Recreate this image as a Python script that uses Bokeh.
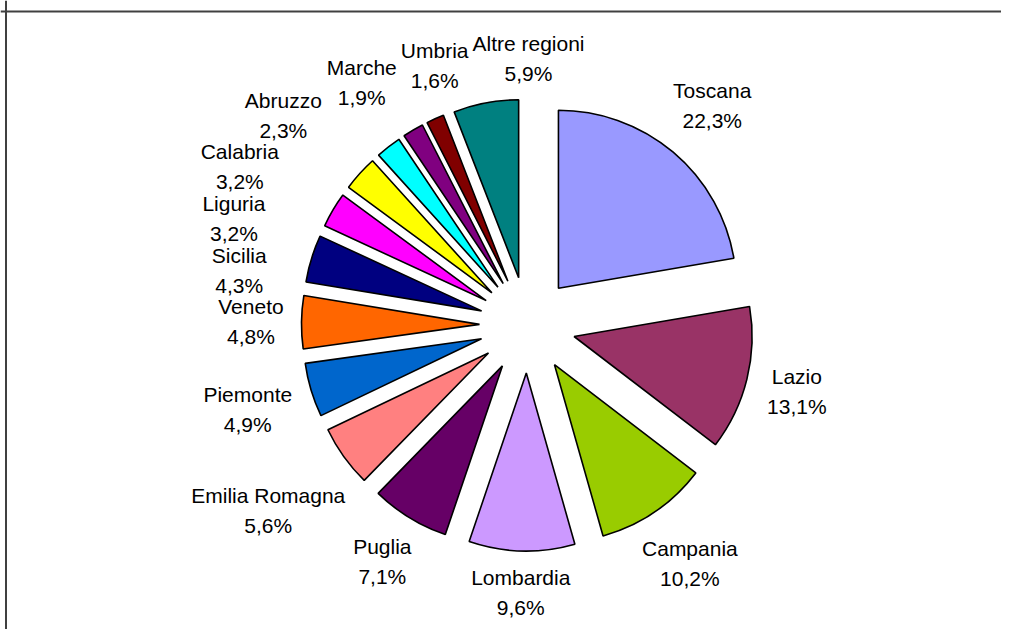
import math
from bokeh.plotting import figure
from bokeh.models import Range1d, ColumnDataSource, Span
from bokeh.embed import file_html
from bokeh.resources import INLINE
from bokeh.core.properties import value

# ---- data ----
regions = ["Toscana", "Lazio", "Campania", "Lombardia", "Puglia", "Emilia Romagna",
           "Piemonte", "Veneto", "Sicilia", "Liguria", "Calabria", "Abruzzo",
           "Marche", "Umbria", "Altre regioni"]
shares = [22.3, 13.1, 10.2, 9.6, 7.1, 5.6, 4.9, 4.8, 4.3, 3.2, 3.2, 2.3, 1.9, 1.6, 5.9]
colors = ["#9999FF", "#993366", "#99CC00", "#CC99FF", "#660066", "#FF8080",
          "#0066CC", "#FF6600", "#000080", "#FF00FF", "#FFFF00", "#00FFFF",
          "#800080", "#800000", "#008080"]

# ---- layout (screen pixels; y measured upward as negative screen y) ----
W, H = 1001, 629
CX, CY = 527.0, -324.5
R = 178.0
EXPLODE = 48.0
GAP = 17.0
PUSH_OUT = 3.0   # extra px of distance per degree a label was pushed back
FONT_PX = 21
LINE_STEP = 30
BOX_H = 46.0

AW = {' ': 278, '%': 889, ',': 278, 'A': 667, 'C': 722, 'E': 667, 'L': 556, 'M': 833,
      'P': 667, 'R': 722, 'S': 667, 'T': 611, 'U': 722, 'V': 667, 'a': 556, 'b': 556,
      'c': 500, 'd': 556, 'e': 556, 'g': 556, 'h': 556, 'i': 222, 'l': 222, 'm': 833,
      'n': 556, 'o': 556, 'p': 556, 'r': 333, 's': 500, 't': 278, 'u': 556, 'z': 500}


def text_w(s):
    return sum(AW.get(ch, 556) for ch in s) / 1000.0 * FONT_PX


total = sum(shares)
pcts = [("%.1f" % v).replace(".", ",") + "%" for v in shares]

xs, ys, starts, ends, mids = [], [], [], [], []
cum = 0.0
for v in shares:
    t0 = cum / total * 2 * math.pi
    cum += v
    t1 = cum / total * 2 * math.pi
    tm = (t0 + t1) / 2
    mids.append(tm)
    xs.append(CX + EXPLODE * math.sin(tm))
    ys.append(CY + EXPLODE * math.cos(tm))
    starts.append(math.pi / 2 - t0)
    ends.append(math.pi / 2 - t1)

widths = [max(text_w(a), text_w(b)) for a, b in zip(regions, pcts)]


def label_center(phi, w, mid):
    s, c = math.sin(phi), math.cos(phi)
    back = max(0.0, math.degrees(mid - phi))
    dist = R + EXPLODE + GAP + PUSH_OUT * back + (w / 2) * abs(s) + (BOX_H / 2) * abs(c)
    return CX + dist * s, CY + dist * c


# spread crowded labels apart along the circle
phis = list(mids)
n = len(phis)
step = math.radians(0.15)
for _ in range(5000):
    moved = False
    cents = [label_center(phis[i], widths[i], mids[i]) for i in range(n)]
    for i in range(n):
        j = (i + 1) % n
        (x1, y1), (x2, y2) = cents[i], cents[j]
        if abs(x1 - x2) < (widths[i] + widths[j]) / 2 + 4 and abs(y1 - y2) < BOX_H + 5:
            phis[i] -= 1.15 * step
            phis[j] += 0.85 * step
            moved = True
    if not moved:
        break

lx, ly = [], []
for i in range(n):
    x, y = label_center(phis[i], widths[i], mids[i])
    lx.append(x)
    ly.append(y)

src = ColumnDataSource(dict(x=xs, y=ys, start=starts, end=ends, color=colors,
                            lx=lx, ly=ly, name=regions, pct=pcts))

p = figure(width=W, height=H, x_range=Range1d(0, W), y_range=Range1d(-H, 0),
           output_backend="svg", toolbar_location=None, x_axis_location=None,
           y_axis_location=None, min_border=0, outline_line_color=None)
p.grid.grid_line_color = None
p.background_fill_color = "white"
p.border_fill_color = "white"

p.wedge(x="x", y="y", radius=R, start_angle="start", end_angle="end", direction="clock",
        fill_color="color", line_color="black", line_width=1.6, source=src)

p.text(x="lx", y="ly", text="name", y_offset=-LINE_STEP / 2, text_align="center",
       text_baseline="middle", text_font=value("Liberation Sans"),
       text_font_size="%dpx" % FONT_PX, text_color="black", source=src)
p.text(x="lx", y="ly", text="pct", y_offset=LINE_STEP / 2, text_align="center",
       text_baseline="middle", text_font=value("Liberation Sans"),
       text_font_size="%dpx" % FONT_PX, text_color="black", source=src)

p.add_layout(Span(location=-11, dimension="width", line_color="#404040", line_width=2))
p.add_layout(Span(location=5.5, dimension="height", line_color="#404040", line_width=2))

open("out.html", "w").write(file_html(p, INLINE))
